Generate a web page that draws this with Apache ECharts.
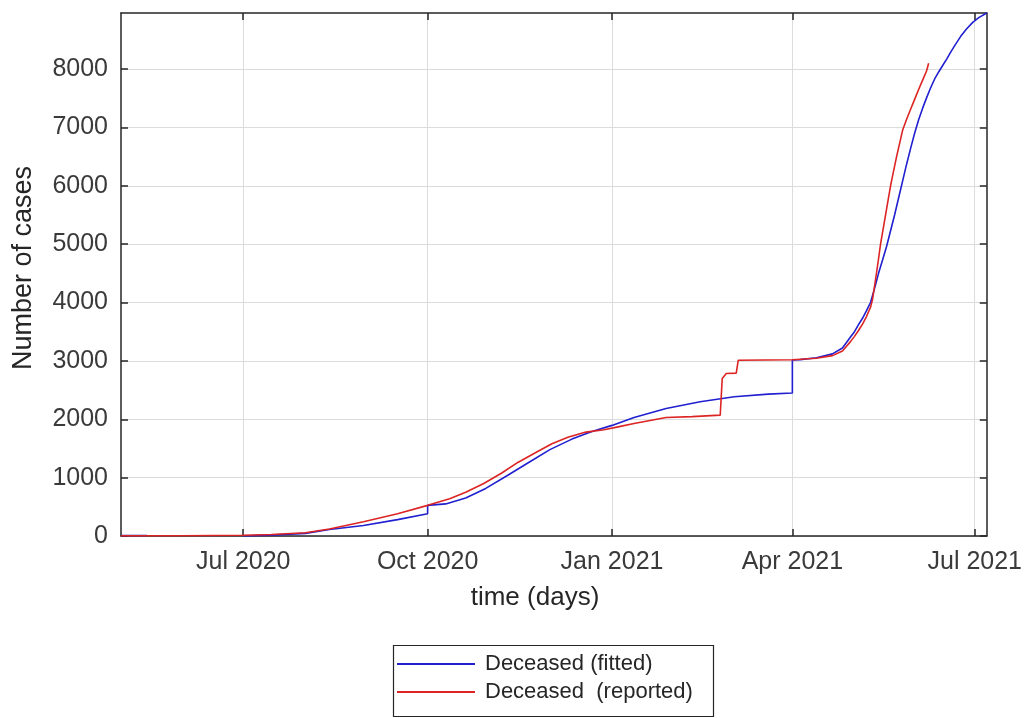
<!DOCTYPE html>
<html>
<head>
<meta charset="utf-8">
<script src="https://cdn.jsdelivr.net/npm/echarts@6/dist/echarts.min.js"></script>
<style>
  html, body { margin: 0; padding: 0; background: #fff; }
  #chart { width: 1025px; height: 718px; }
</style>
</head>
<body>
<div id="chart"></div>
<script>
// Deceased cases: model fit (piecewise windows) and reported counts
const fittedDates = [
  '2020-05-01', '2020-05-14', '2020-06-01',
  '2020-07-01', '2020-07-15', '2020-08-01', '2020-08-13', '2020-08-30', '2020-09-16', '2020-10-01',
  '2020-10-01', '2020-10-10', '2020-10-20', '2020-10-30', '2020-11-10', '2020-11-20', '2020-12-01',
  '2020-12-12', '2020-12-22', '2021-01-01', '2021-01-12', '2021-01-28', '2021-02-14', '2021-03-03',
  '2021-03-20', '2021-04-01',
  '2021-04-01', '2021-04-05', '2021-04-13', '2021-04-21', '2021-04-26', '2021-04-30', '2021-05-02',
  '2021-05-04', '2021-05-06', '2021-05-08', '2021-05-10', '2021-05-12', '2021-05-14', '2021-05-16',
  '2021-05-18', '2021-05-20', '2021-05-22', '2021-05-24', '2021-05-26', '2021-05-28', '2021-05-30',
  '2021-06-01', '2021-06-03', '2021-06-05', '2021-06-07', '2021-06-09', '2021-06-11', '2021-06-13',
  '2021-06-15', '2021-06-17', '2021-06-19', '2021-06-21', '2021-06-24', '2021-06-27', '2021-06-30',
  '2021-07-03', '2021-07-07'
];
const fittedValues = [
  6, 8, null,
  0, 15, 45, 110, 180, 280, 380,
  525, 550, 650, 815, 1040, 1250, 1480,
  1660, 1790, 1895, 2030, 2185, 2300, 2385,
  2430, 2450,
  3015, 3022, 3055, 3120, 3220, 3410, 3500,
  3620, 3730, 3860, 4000, 4240, 4500, 4730,
  4960, 5230, 5500, 5790, 6080, 6370, 6640,
  6900, 7130, 7330, 7510, 7680, 7830, 7950,
  8060, 8170, 8290, 8400, 8560, 8690, 8800,
  8880, 8960
];

const reportedDates = [
  '2020-05-01', '2020-06-01', '2020-07-01', '2020-07-15', '2020-08-01', '2020-08-13', '2020-08-30',
  '2020-09-16', '2020-10-01', '2020-10-12', '2020-10-20', '2020-10-29', '2020-11-07', '2020-11-15',
  '2020-11-24', '2020-12-02', '2020-12-10', '2020-12-19', '2020-12-28', '2021-01-04', '2021-01-12',
  '2021-01-28', '2021-02-10', '2021-02-24', '2021-02-25', '2021-02-27', '2021-03-04', '2021-03-05',
  '2021-04-01', '2021-04-13', '2021-04-21', '2021-04-26', '2021-04-30', '2021-05-02', '2021-05-04',
  '2021-05-06', '2021-05-08', '2021-05-10', '2021-05-11', '2021-05-12', '2021-05-13', '2021-05-14',
  '2021-05-15', '2021-05-16', '2021-05-17', '2021-05-18', '2021-05-19', '2021-05-20', '2021-05-21',
  '2021-05-23', '2021-05-25', '2021-05-26', '2021-05-28', '2021-05-30', '2021-06-01', '2021-06-03',
  '2021-06-05', '2021-06-07', '2021-06-08'
];
const reportedValues = [
  2, 5, 12, 25, 55, 120, 245,
  380, 525, 640, 750, 900, 1080, 1260,
  1430, 1580, 1690, 1780, 1820, 1870, 1926,
  2030, 2045, 2070, 2700, 2784, 2790, 3012,
  3020, 3045, 3090, 3170, 3330, 3420, 3520,
  3630, 3760, 3920, 4050, 4280, 4510, 4750,
  5000, 5200, 5400, 5600, 5800, 6000, 6170,
  6500, 6800, 6950, 7140, 7310, 7480, 7650,
  7810, 7970, 8100
];

const xTickDates = ['2020-07-01', '2020-10-01', '2021-01-01', '2021-04-01', '2021-07-01'];
const xTickLabels = ['Jul 2020', 'Oct 2020', 'Jan 2021', 'Apr 2021', 'Jul 2021'];
const yTickValues = [0, 1000, 2000, 3000, 4000, 5000, 6000, 7000, 8000];
const xRange = ['2020-05-01', '2021-07-07'];
const yRange = [0, 8960];

const seriesNames = ['Deceased (fitted)', 'Deceased  (reported)'];

// Dates become UTC millisecond stamps on a linear value axis
const ts = d => Date.parse(d + 'T00:00:00Z');
const toPairs = (dates, values) =>
  dates.map((d, i) => [ts(d), values[i] === null ? '-' : values[i]]);

const xTickStamps = xTickDates.map(ts);
const labelFor = {};
xTickStamps.forEach((t, i) => { labelFor[t] = xTickLabels[i]; });

const FONT = "'Liberation Sans', Arial, Helvetica, sans-serif";
const INK = '#262626';
const LABEL = '#3a3a3a';
const GRID = '#dcdcdc';

const axisLine = { show: true, onZero: false, lineStyle: { color: INK, width: 1.5 } };
const tickIn = (values) => ({
  show: true, inside: true, length: 7, customValues: values,
  lineStyle: { color: INK, width: 1.5 }
});

const chart = echarts.init(document.getElementById('chart'), null, { renderer: 'canvas' });

chart.setOption({
  animation: false,
  backgroundColor: '#ffffff',
  grid: { left: 121, right: 38, top: 13, bottom: 182, containLabel: false },
  xAxis: [
    {
      type: 'value', position: 'bottom', scale: true,
      min: ts(xRange[0]), max: ts(xRange[1]),
      axisLine: axisLine,
      axisTick: tickIn(xTickStamps),
      axisLabel: {
        customValues: xTickStamps,
        formatter: v => labelFor[v] || '',
        fontFamily: FONT, fontSize: 25, color: LABEL, margin: 14,
        hideOverlap: false
      },
      splitLine: { show: true, lineStyle: { color: GRID, width: 1 } }
    },
    {
      type: 'value', position: 'top', scale: true,
      min: ts(xRange[0]), max: ts(xRange[1]),
      axisLine: axisLine,
      axisTick: tickIn(xTickStamps),
      axisLabel: { show: false },
      splitLine: { show: false }
    }
  ],
  yAxis: [
    {
      type: 'value', position: 'left',
      min: yRange[0], max: yRange[1],
      axisLine: axisLine,
      axisTick: tickIn(yTickValues),
      axisLabel: {
        customValues: yTickValues,
        formatter: v => String(v),
        fontFamily: FONT, fontSize: 25, color: LABEL, margin: 13
      },
      splitLine: { show: true, lineStyle: { color: GRID, width: 1 } }
    },
    {
      type: 'value', position: 'right',
      min: yRange[0], max: yRange[1],
      axisLine: axisLine,
      axisTick: tickIn(yTickValues),
      axisLabel: { show: false },
      splitLine: { show: false }
    }
  ],
  legend: {
    orient: 'vertical',
    left: 397, top: 653,
    z: 10,
    data: seriesNames,
    icon: 'rect',
    itemWidth: 78, itemHeight: 2,
    itemGap: 6,
    padding: 0,
    selectedMode: false,
    textStyle: {
      fontFamily: FONT, fontSize: 22, color: INK, lineHeight: 22,
      padding: [0, 0, 0, 5]
    }
  },
  graphic: [
    {
      type: 'rect', z: 5,
      shape: { x: 393.5, y: 645.5, width: 320, height: 71 },
      style: { fill: '#ffffff', stroke: INK, lineWidth: 1.2 }
    },
    {
      type: 'text', z: 5,
      x: 535, y: 598,
      style: {
        text: 'time (days)', font: "26px " + FONT, fill: INK,
        textAlign: 'center', textVerticalAlign: 'middle'
      }
    },
    {
      type: 'text', z: 5,
      x: 24, y: 268, rotation: Math.PI / 2,
      style: {
        text: 'Number of cases', font: "27px " + FONT, fill: INK,
        textAlign: 'center', textVerticalAlign: 'middle'
      }
    }
  ],
  series: [
    {
      name: seriesNames[0], type: 'line',
      xAxisIndex: 0, yAxisIndex: 0,
      data: toPairs(fittedDates, fittedValues),
      showSymbol: false, symbol: 'none', connectNulls: false,
      lineStyle: { color: '#2020d0', width: 1.6 },
      itemStyle: { color: '#2020d0' }
    },
    {
      name: seriesNames[1], type: 'line',
      xAxisIndex: 0, yAxisIndex: 0,
      data: toPairs(reportedDates, reportedValues),
      showSymbol: false, symbol: 'none',
      lineStyle: { color: '#dd2424', width: 1.6 },
      itemStyle: { color: '#dd2424' }
    }
  ]
});
</script>
</body>
</html>
